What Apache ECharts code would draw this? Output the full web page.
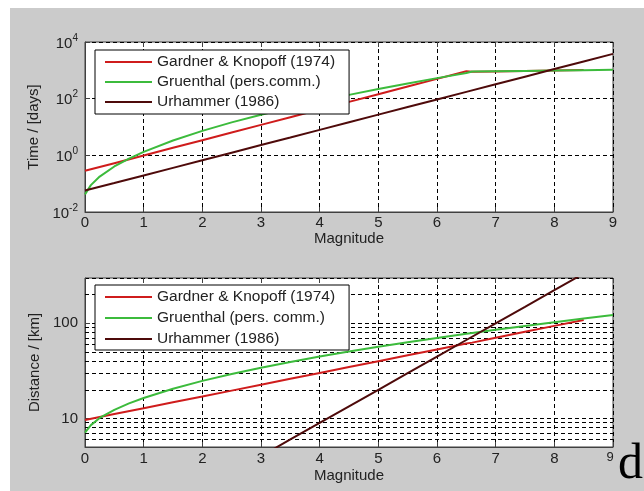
<!DOCTYPE html>
<html>
<head>
<meta charset="utf-8">
<script src="https://cdn.jsdelivr.net/npm/echarts@6/dist/echarts.min.js"></script>
<style>
body { margin: 0; background: #fff; }
#wrap { position: relative; width: 644px; height: 491px; background: #fff; }
#bg { position: absolute; left: 10px; top: 8px; right: 0; bottom: 0; background: #cbcbcb; }
#main { position: absolute; left: 0; top: 0; width: 644px; height: 491px; }
</style>
</head>
<body>
<div id="wrap"><div id="bg"></div><div id="main"></div></div>
<script>
// magnitudes
var magGK = [0, 0.5, 1, 1.5, 2, 2.5, 3, 3.5, 4, 4.5, 5, 5.5, 6, 6.5, 6.6, 7, 7.5, 8, 8.5];
var magGR = [0, 0.1, 0.25, 0.5, 0.75, 1, 1.5, 2, 2.5, 3, 3.5, 4, 4.5, 5, 5.5, 6, 6.5, 6.6, 7, 7.5, 8, 8.5, 9];
var magUR = [0, 0.5, 1, 1.5, 2, 2.5, 3, 3.5, 4, 4.5, 5, 5.5, 6, 6.5, 7, 7.5, 8, 8.5, 9];

// time window [days]
var timeGK = [0.284, 0.529, 0.986, 1.84, 3.43, 6.39, 11.9, 22.2, 41.4, 77.1, 144, 268, 499, 931, 891, 918, 953, 989, 1026];
var timeGR = [0.042, 0.089, 0.178, 0.405, 0.77, 1.33, 3.35, 7.3, 14.6, 27.1, 48.2, 82.3, 136, 219, 345, 531, 804, 908, 929, 955, 982, 1009, 1038];
var timeUR = [0.057, 0.105, 0.195, 0.361, 0.67, 1.24, 2.31, 4.27, 7.93, 14.7, 27.3, 50.5, 93.7, 174, 322, 598, 1108, 2054, 3809];

// distance window [km]
var distGK = [9.6, 11.1, 12.8, 14.8, 17.0, 19.6, 22.6, 26.1, 30.1, 34.7, 40.0, 46.1, 53.2, 61.3, 62.7, 70.7, 81.5, 94.1, 108.5];
var distGR = [7.1, 8.5, 10.1, 12.3, 14.4, 16.4, 20.5, 24.8, 29.3, 34.1, 39.2, 44.7, 50.5, 56.6, 63.2, 70.2, 77.6, 79.2, 85.6, 93.9, 102.8, 112.3, 122.2];
var distURmag = [3, 3.5, 4, 4.5, 5, 5.5, 6, 6.5, 7, 7.5, 8, 8.5, 9];
var distUR = [4.0, 6.0, 8.95, 13.4, 20.0, 29.9, 44.7, 66.8, 99.9, 149, 223, 334, 499];

var namesTop = ['Gardner & Knopoff (1974)', 'Gruenthal (pers.comm.)', 'Urhammer (1986)'];
var namesBot = ['Gardner & Knopoff (1974)', 'Gruenthal (pers. comm.)', 'Urhammer (1986)'];
var minorGrid = [6, 7, 8, 9, 20, 30, 40, 50, 60, 70, 80, 90, 200];

var colRed = '#cf1c1c', colGreen = '#3cbb3c', colBrown = '#4e0a0a';
var font = 'Liberation Sans, Arial, sans-serif';

function pairs(xs, ys) {
    return xs.map(function (x, i) { return [x, ys[i]]; });
}

var dash = { type: [4, 3], color: '#000', width: 1 };

function xAxisFor(gi, labelMargin, nameGap, lastSmall) {
    return [{
        type: 'value', gridIndex: gi, min: 0, max: 9, interval: 1,
        name: 'Magnitude', nameLocation: 'middle', nameGap: nameGap,
        nameTextStyle: { fontFamily: font, fontSize: 15, color: '#222' },
        axisLine: { lineStyle: { color: '#404040', width: 1 } },
        axisTick: { inside: true, length: 5, lineStyle: { color: '#404040' } },
        axisLabel: {
            margin: labelMargin, fontFamily: font, fontSize: 15, color: '#222',
            formatter: function (v) {
                if (lastSmall && v === 9) return '{n|9}';
                return String(v);
            },
            rich: { n: { fontSize: 13, fontFamily: font, color: '#222', padding: [0, 6, 5, 0] } }
        },
        splitLine: { show: true, lineStyle: dash }
    }, {
        type: 'value', gridIndex: gi, position: 'top', min: 0, max: 9, interval: 1,
        axisLine: { show: false },
        axisTick: { inside: true, length: 5, lineStyle: { color: '#404040' } },
        axisLabel: { show: false },
        splitLine: { show: false }
    }];
}

var option = {
    animation: false,
    backgroundColor: 'transparent',
    grid: [
        { left: 85, top: 42, width: 528, height: 170, show: true, backgroundColor: '#fff', borderColor: '#404040', borderWidth: 1 },
        { left: 85, top: 278, width: 528, height: 169, show: true, backgroundColor: '#fff', borderColor: '#404040', borderWidth: 1 }
    ],
    xAxis: xAxisFor(0, 3, 16, false).concat(xAxisFor(1, 4, 21, true)),
    yAxis: [{
        type: 'log', gridIndex: 0, logBase: 100, min: 0.01, max: 10000,
        name: 'Time / [days]', nameLocation: 'middle', nameGap: 43, nameRotate: 90,
        nameTextStyle: { fontFamily: font, fontSize: 15, color: '#222' },
        axisLine: { lineStyle: { color: '#404040' } },
        axisTick: { inside: true, length: 5, lineStyle: { color: '#404040' } },
        axisLabel: {
            margin: 7,
            formatter: function (v) {
                return '{b|10}{s|' + Math.round(Math.log10(v)) + '}';
            },
            rich: {
                b: { fontFamily: font, fontSize: 15, color: '#222', verticalAlign: 'bottom' },
                s: { fontFamily: font, fontSize: 10, color: '#222', verticalAlign: 'top', padding: [0, 0, 8, 0] }
            }
        },
        splitLine: { show: true, lineStyle: dash }
    }, {
        type: 'log', gridIndex: 1, logBase: 10, min: 5, max: 300,
        name: 'Distance / [km]', nameLocation: 'middle', nameGap: 43, nameRotate: 90,
        nameTextStyle: { fontFamily: font, fontSize: 15, color: '#222' },
        axisLine: { lineStyle: { color: '#404040' } },
        axisTick: { inside: true, length: 5, lineStyle: { color: '#404040' } },
        axisLabel: {
            margin: 7, fontFamily: font, fontSize: 15, color: '#222',
            showMinLabel: false, showMaxLabel: false,
            formatter: function (v) {
                var r = Math.round(v);
                return (r === 10 || r === 100) ? String(r) : '';
            }
        },
        splitLine: { show: true, lineStyle: dash }
    }],
    legend: [{
        orient: 'vertical', left: 95, top: 50, z: 20,
        data: namesTop,
        icon: 'rect', itemWidth: 47, itemHeight: 2, itemGap: 4, itemTextGap: 8,
        padding: [4, 14, 4, 10],
        backgroundColor: '#fff', borderColor: '#000', borderWidth: 1,
        textStyle: { fontFamily: font, fontSize: 15.5, color: '#222', lineHeight: 16 }
    }, {
        orient: 'vertical', left: 95, top: 285, z: 20,
        data: namesBot,
        icon: 'rect', itemWidth: 47, itemHeight: 2, itemGap: 5, itemTextGap: 8,
        padding: [4, 14, 3, 10],
        backgroundColor: '#fff', borderColor: '#000', borderWidth: 1,
        textStyle: { fontFamily: font, fontSize: 15.5, color: '#222', lineHeight: 16 }
    }],
    series: [
        { name: namesTop[0], type: 'line', xAxisIndex: 0, yAxisIndex: 0, showSymbol: false, data: pairs(magGK, timeGK), lineStyle: { color: colRed, width: 2 }, itemStyle: { color: colRed } },
        { name: namesTop[1], type: 'line', xAxisIndex: 0, yAxisIndex: 0, showSymbol: false, data: pairs(magGR, timeGR), lineStyle: { color: colGreen, width: 2 }, itemStyle: { color: colGreen } },
        { name: namesTop[2], type: 'line', xAxisIndex: 0, yAxisIndex: 0, showSymbol: false, data: pairs(magUR, timeUR), lineStyle: { color: colBrown, width: 2 }, itemStyle: { color: colBrown } },
        {
            name: 'grid', type: 'line', xAxisIndex: 2, yAxisIndex: 1, data: [], z: 1,
            markLine: {
                z: 1, silent: true, symbol: 'none', label: { show: false }, lineStyle: dash,
                data: minorGrid.map(function (v) { return { yAxis: v }; })
            }
        },
        { name: namesBot[0], type: 'line', xAxisIndex: 2, yAxisIndex: 1, showSymbol: false, data: pairs(magGK, distGK), lineStyle: { color: colRed, width: 2 }, itemStyle: { color: colRed } },
        { name: namesBot[1], type: 'line', xAxisIndex: 2, yAxisIndex: 1, showSymbol: false, data: pairs(magGR, distGR), lineStyle: { color: colGreen, width: 2 }, itemStyle: { color: colGreen } },
        { name: namesBot[2], type: 'line', xAxisIndex: 2, yAxisIndex: 1, showSymbol: false, data: pairs(distURmag, distUR), lineStyle: { color: colBrown, width: 2 }, itemStyle: { color: colBrown } }
    ],
    graphic: [{
        type: 'text', left: 618, top: 440, z: 100,
        style: { text: 'd', fontFamily: 'Liberation Serif, Times New Roman, serif', fontSize: 50, fill: '#000' }
    }]
};

var chart = echarts.init(document.getElementById('main'), null, { renderer: 'canvas' });
chart.setOption(option);
</script>
</body>
</html>
